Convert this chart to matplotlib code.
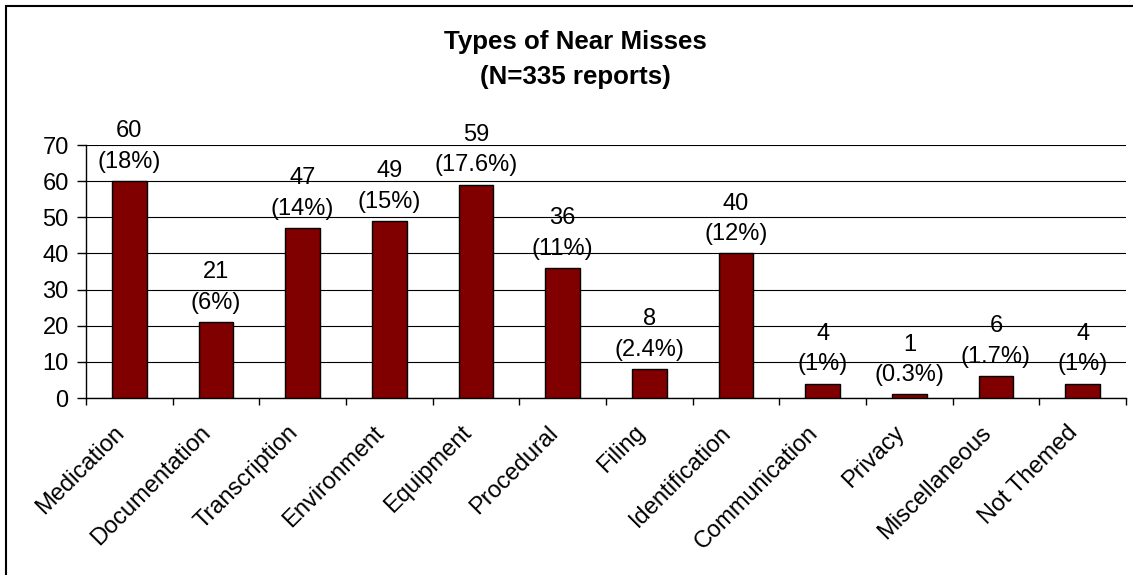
import matplotlib.pyplot as plt
import numpy as np
from matplotlib.patches import Rectangle
from matplotlib.transforms import ScaledTranslation

plt.rcParams['font.family'] = ['Liberation Sans', 'DejaVu Sans']

categories = ['Medication', 'Documentation', 'Transcription', 'Environment', 'Equipment',
              'Procedural', 'Filing', 'Identification', 'Communication', 'Privacy',
              'Miscellaneous', 'Not Themed']
counts = [60, 21, 47, 49, 59, 36, 8, 40, 4, 1, 6, 4]
percents = ['18%', '6%', '14%', '15%', '17.6%', '11%', '2.4%', '12%', '1%', '0.3%', '1.7%', '1%']

fig = plt.figure(figsize=(11.33, 5.75), dpi=100)
ax = fig.add_axes([0.0759, 0.3078, 0.9179, 0.44])

x = np.arange(len(categories))
ax.bar(x, counts, width=0.4, color='#800000', edgecolor='black', linewidth=1, zorder=3)

for xi, c, p in zip(x, counts, percents):
    ax.annotate(f'{c}\n({p})', (xi, c), xytext=(0, 6), textcoords='offset points',
                ha='center', va='bottom', fontsize=17, linespacing=1.5, zorder=4)

ax.set_xlim(-0.5, len(categories) - 0.5)
ax.set_ylim(0, 70)
ax.set_yticks(np.arange(0, 71, 10))
ax.tick_params(axis='y', labelsize=17, direction='out', length=6.5, width=1, pad=6)
ax.grid(axis='y', color='black', linewidth=0.8, zorder=0)

# category ticks sit between the bars
ax.set_xticks(np.arange(-0.5, len(categories), 1.0), minor=False)
ax.set_xticklabels([])
ax.tick_params(axis='x', direction='out', length=5, width=1)
ax.set_xticks(x, minor=True)
ax.set_xticklabels(categories, minor=True, rotation=45, ha='right', rotation_mode='anchor',
                   fontsize=17)
ax.tick_params(axis='x', which='minor', length=0, pad=17)
shift = ScaledTranslation(-16 / 100, 0, fig.dpi_scale_trans)
for lab in ax.get_xticklabels(minor=True):
    lab.set_transform(lab.get_transform() + shift)

for s in ['top', 'right']:
    ax.spines[s].set_visible(False)
ax.spines['left'].set_linewidth(1)
ax.spines['bottom'].set_linewidth(1)

fig.text(575 / 1133, 1 - 42 / 575, 'Types of Near Misses', ha='center', va='center',
         fontsize=18.6, fontweight='bold')
fig.text(575 / 1133, 1 - 77 / 575, '(N=335 reports)', ha='center', va='center',
         fontsize=18.6, fontweight='bold')

# chart border (only left/top visible in the original crop)
fig.patches.append(Rectangle((6 / 1133, -0.1), 1.2, 1 - 6 / 575 + 0.1, transform=fig.transFigure,
                             fill=False, edgecolor='black', linewidth=1.5))

fig.savefig('out.png', dpi=100, facecolor='white')
